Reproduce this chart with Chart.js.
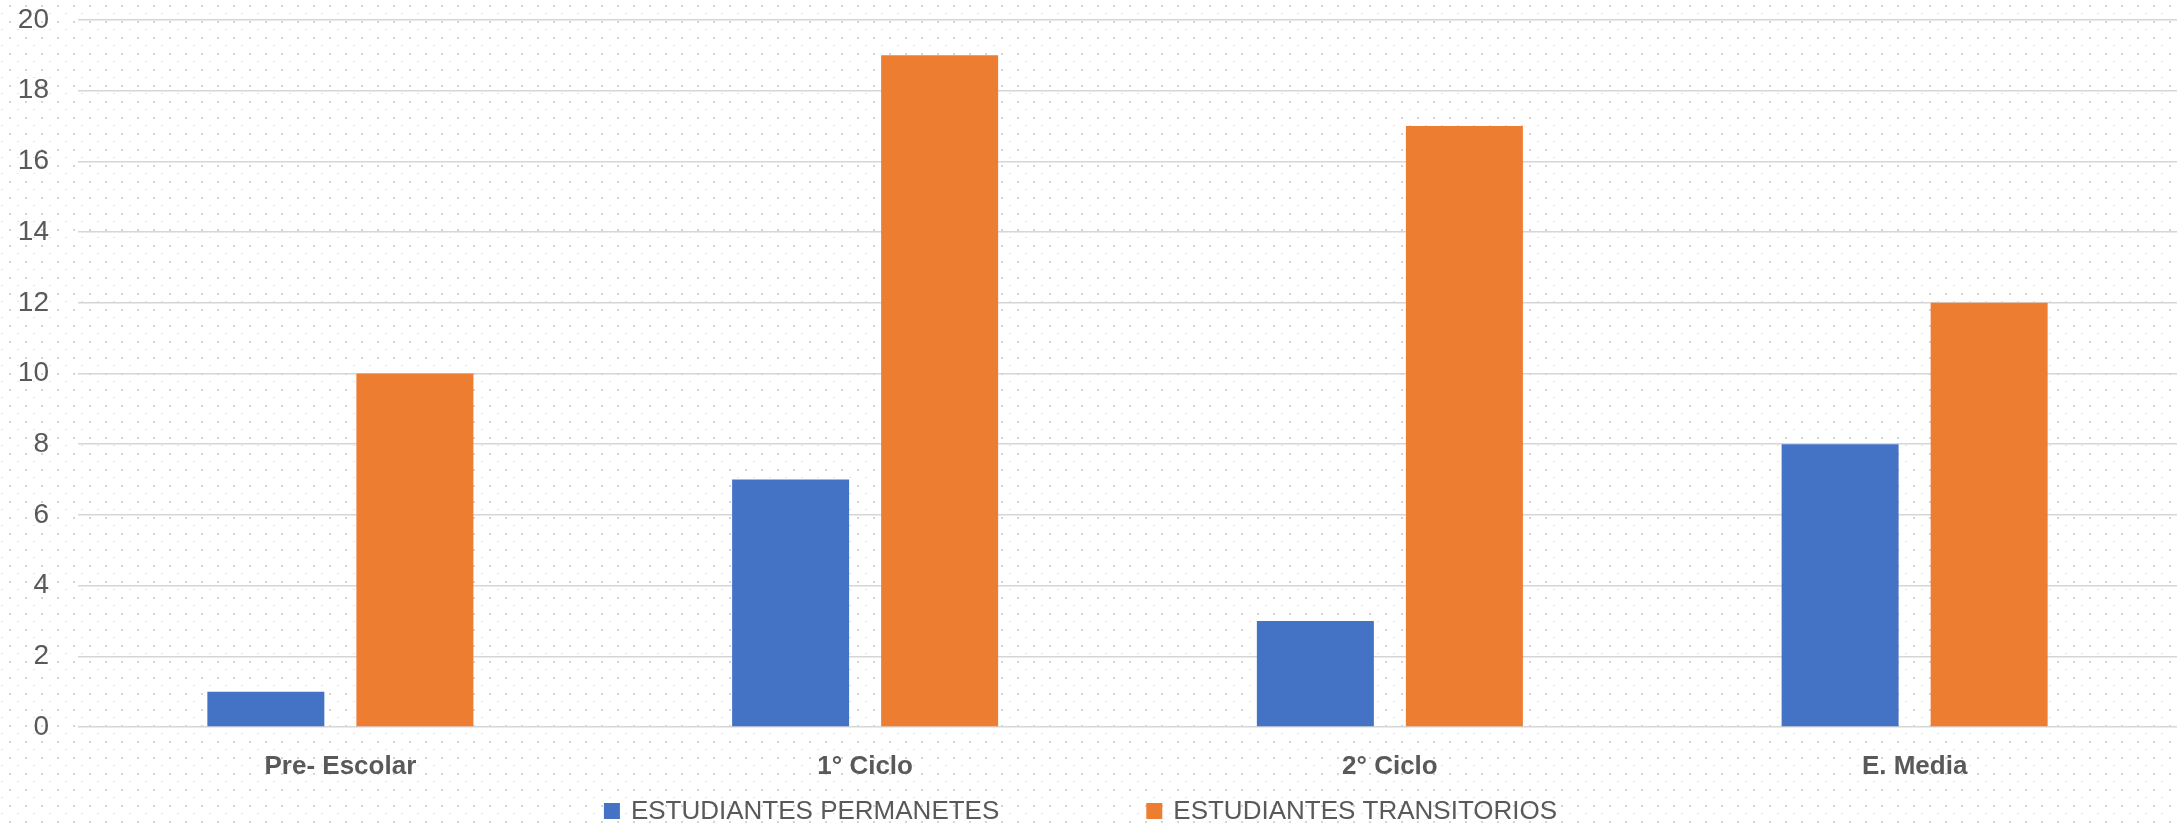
<!DOCTYPE html>
<html>
<head>
<meta charset="utf-8">
<script src="https://cdn.jsdelivr.net/npm/chart.js@4/dist/chart.umd.min.js"></script>
<style>
  html, body { margin: 0; padding: 0; background: #fff; }
  #wrap { width: 2181px; height: 826px; position: relative; }
</style>
</head>
<body>
<div id="wrap"><canvas id="chart"></canvas></div>
<script>
// data
const categories = ['Pre- Escolar', '1° Ciclo', '2° Ciclo', 'E. Media'];
const permanentes = [1, 7, 3, 8];
const transitorios = [10, 19, 17, 12];
const seriesNames = ['ESTUDIANTES PERMANETES', 'ESTUDIANTES TRANSITORIOS'];
const seriesColors = ['#4472C4', '#ED7D31'];
const yMax = 20;
const yStep = 2;

const textColor = '#595959';
const fontFamily = '"Liberation Sans", Arial, sans-serif';

// dotted paper background, like the office chart style
const dottedBg = {
  id: 'dottedBg',
  beforeDraw(chart) {
    const { ctx, width, height } = chart;
    ctx.save();
    ctx.fillStyle = '#ffffff';
    ctx.fillRect(0, 0, width, height);
    for (let y = 5; y < height; y += 16) {
      for (let x = 9; x < width; x += 16) {
        ctx.fillStyle = '#d4d4d4';
        ctx.fillRect(x, y, 2, 2);
        ctx.fillStyle = '#e4e4e4';
        ctx.fillRect(x - 8, y + 8, 2, 1);
      }
    }
    ctx.restore();
  }
};

// legend drawn from the datasets, spaced like the original
const bottomLegend = {
  id: 'bottomLegend',
  afterDraw(chart) {
    const { ctx, width } = chart;
    const box = 16, gapText = 11, gapItem = 147, yMid = 811;
    ctx.save();
    ctx.font = '26px ' + fontFamily;
    ctx.textBaseline = 'middle';
    const items = chart.data.datasets.map(ds => ({
      label: ds.label, color: ds.backgroundColor,
      w: box + gapText + ctx.measureText(ds.label).width
    }));
    const total = items.reduce((s, it) => s + it.w, 0) + gapItem * (items.length - 1);
    let x = (width - total) / 2 - 10;
    items.forEach(it => {
      ctx.fillStyle = it.color;
      ctx.fillRect(x, yMid - box / 2, box, box);
      ctx.fillStyle = textColor;
      ctx.fillText(it.label, x + box + gapText, yMid + 1);
      x += it.w + gapItem;
    });
    ctx.restore();
  }
};

new Chart(document.getElementById('chart'), {
  type: 'bar',
  data: {
    labels: categories,
    datasets: [
      { label: seriesNames[0], data: permanentes, backgroundColor: seriesColors[0] },
      { label: seriesNames[1], data: transitorios, backgroundColor: seriesColors[1] }
    ]
  },
  options: {
    responsive: true,
    maintainAspectRatio: false,
    animation: false,
    categoryPercentage: 0.568,
    barPercentage: 0.785,
    layout: { padding: { top: 20, right: 4, bottom: 40, left: 0 } },
    plugins: {
      legend: { display: false },
      tooltip: { enabled: false }
    },
    scales: {
      x: {
        grid: { display: false, drawTicks: false },
        border: { display: false },
        ticks: {
          color: textColor,
          padding: 24,
          font: { family: fontFamily, size: 26, weight: 'bold' }
        },
        afterFit(scale) { scale.height = 59; }
      },
      y: {
        min: 0,
        max: yMax,
        ticks: {
          stepSize: yStep,
          color: textColor,
          padding: 29,
          font: { family: fontFamily, size: 28 }
        },
        grid: { color: '#d6d6d6', lineWidth: 1.5, drawTicks: false },
        border: { display: false },
        afterFit(scale) {
          scale.width = 78;
          scale.paddingTop = 0;
          scale.paddingBottom = 0;
        }
      }
    }
  },
  plugins: [dottedBg, bottomLegend]
});
</script>
</body>
</html>
